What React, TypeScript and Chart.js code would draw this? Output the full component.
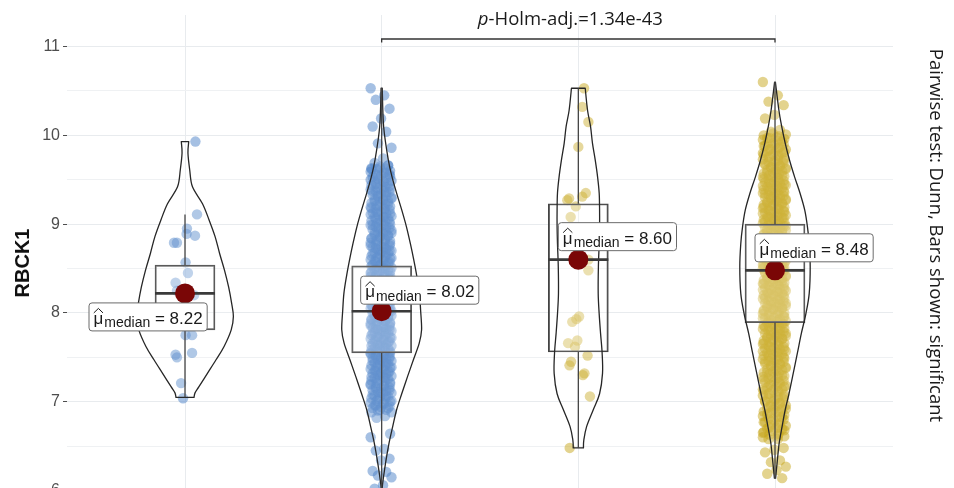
import React, { useEffect, useRef } from "react";
import { Chart, registerables } from "chart.js";

Chart.register(...registerables);

// ---------------- data ----------------
const groupPositions = [1, 2, 3, 4];
const medians = [8.22, 8.02, 8.6, 8.48];
const medianLabels = ["8.22", "8.02", "8.60", "8.48"];
const q1s = [7.81, 7.55, 7.56, 7.89];
const q3s = [8.54, 8.53, 9.23, 9.0];
const whiskerLo = [7.05, 5.98, 6.48, 6.14];
const whiskerHi = [9.11, 10.53, 10.53, 10.6];

const yGridValues = [6, 6.5, 7, 7.5, 8, 8.5, 9, 9.5, 10, 10.5, 11];
const yAxisTitle = "RBCK1";
const pValueText = "-Holm-adj.=1.34e-43";
const captionText = "Pairwise test: Dunn, Bars shown: significant";
const bracketGroups = [2, 4];

const g1Values = [9.93, 9.11, 8.95, 8.89, 8.87, 8.79, 8.79, 8.57, 8.45, 8.34, 8.25, 8.2, 8.07, 8.0, 7.75, 7.75, 7.55, 7.53, 7.5, 7.21, 7.04];
const g1Jitter = [0.053, 0.061, 0.01, 0.008, 0.051, -0.056, -0.041, 0.003, 0.015, -0.048, -0.041, 0.046, 0.0, 0.036, 0.003, 0.036, 0.036, -0.048, -0.041, -0.02, -0.01];

const g2Values = [
  10.53, 10.45, 10.4, 10.3, 10.19, 10.1, 10.04, 9.91, 9.86, 9.74, 9.69,
  9.66, 9.63, 9.62, 9.58, 9.55, 9.54, 9.5, 9.47, 9.45, 9.43, 9.39, 9.37, 9.36, 9.32, 9.3, 9.27, 9.26, 9.23, 9.21, 9.18,
  9.17, 9.14, 9.12, 9.11, 9.08, 9.06, 9.03, 9.02, 8.99, 8.97, 8.96, 8.93, 8.91, 8.9, 8.87, 8.86, 8.84, 8.81, 8.8, 8.78,
  8.76, 8.74, 8.73, 8.7, 8.69, 8.67, 8.65, 8.63, 8.62, 8.59, 8.58, 8.56, 8.54, 8.53, 8.5, 8.49, 8.47, 8.45, 8.43, 8.42,
  8.4, 8.38, 8.37, 8.34, 8.33, 8.31, 8.29, 8.28, 8.26, 8.24, 8.22, 8.21, 8.19, 8.17, 8.16, 8.13, 8.12, 8.1, 8.08, 8.07,
  8.05, 8.03, 8.02, 7.99, 7.98, 7.96, 7.94, 7.93, 7.91, 7.89, 7.88, 7.86, 7.84, 7.82, 7.81, 7.79, 7.77, 7.76, 7.73, 7.72,
  7.7, 7.68, 7.67, 7.64, 7.63, 7.61, 7.58, 7.57, 7.55, 7.53, 7.51, 7.49, 7.47, 7.46, 7.43, 7.41, 7.39, 7.37, 7.35, 7.33,
  7.31, 7.28, 7.27, 7.24, 7.22, 7.2, 7.17, 7.15, 7.13, 7.1, 7.08, 7.06, 7.03, 7.01, 6.98, 6.96, 6.93, 6.91, 6.88,
  6.84, 6.82, 6.64, 6.6, 6.47, 6.45, 6.36, 6.34, 6.22, 6.21, 6.17, 6.15, 6.06, 6.02,
  9.66, 9.65, 9.63, 9.63, 9.62, 9.6, 9.59, 9.58, 9.56, 9.56, 9.55, 9.53, 9.52, 9.51, 9.49, 9.48, 9.48, 9.46, 9.45, 9.44,
  9.42, 9.41, 9.4, 9.39, 9.37, 9.37, 9.36, 9.34, 9.33, 9.32, 9.31, 9.29, 9.28, 9.28, 9.26, 9.25, 9.24, 9.22, 9.21, 9.2,
  9.19, 9.17, 9.17, 9.16, 9.14, 9.13, 9.12, 9.11, 9.09, 9.08, 9.08, 9.06, 9.05, 9.04, 9.03, 9.01, 9.0, 8.99, 8.99, 8.97,
  8.96, 8.95, 8.94, 8.92, 8.91, 8.9, 8.89, 8.88, 8.87, 8.85, 8.84, 8.83, 8.82, 8.81, 8.79, 8.78, 8.77, 8.76, 8.75, 8.74,
  8.72, 8.71, 8.7, 8.69, 8.68, 8.67, 8.66, 8.64, 8.63, 8.62, 8.61, 8.6, 8.59, 8.58, 8.57, 8.55, 8.54, 8.53, 8.52, 8.51,
  8.5, 8.49, 8.48, 8.47, 8.46, 8.44, 8.43, 8.42, 8.41, 8.4, 8.39, 8.38, 8.37, 8.36, 8.35, 8.34, 8.32, 8.31, 8.3, 8.29,
  8.28, 8.27, 8.26, 8.25, 8.24, 8.23, 8.22, 8.21, 8.2, 8.19, 8.18, 8.17, 8.16, 8.14, 8.13, 8.12, 8.11, 8.1, 8.09, 8.08,
  8.07, 8.06, 8.05, 8.04, 8.03, 8.02, 8.01, 8.0, 7.99, 7.98, 7.97, 7.96, 7.95, 7.94, 7.93, 7.92, 7.91, 7.9, 7.89, 7.88,
  7.87, 7.86, 7.85, 7.84, 7.83, 7.82, 7.81, 7.8, 7.79, 7.78, 7.77, 7.76, 7.75, 7.74, 7.73, 7.72, 7.71, 7.7, 7.69, 7.68,
  7.67, 7.66, 7.65, 7.64, 7.63, 7.62, 7.61, 7.6, 7.59, 7.58, 7.57, 7.56, 7.55, 7.54, 7.53, 7.52, 7.51, 7.5, 7.49, 7.48,
  7.47, 7.46, 7.45, 7.44, 7.43, 7.42, 7.41, 7.4, 7.39, 7.38, 7.37, 7.36, 7.35, 7.34, 7.33, 7.32, 7.31, 7.3, 7.29, 7.28,
  7.27, 7.26, 7.25, 7.24, 7.23, 7.21, 7.2, 7.19, 7.18, 7.17, 7.16, 7.15, 7.13, 7.12, 7.11, 7.1, 7.09, 7.07, 7.06, 7.05,
  7.04, 7.03, 7.01, 7.0, 6.99, 6.98, 6.96, 6.95, 6.94, 6.93, 6.91, 6.9, 6.88,
];

const g3Values = [10.53, 10.32, 10.15, 9.87, 9.35, 9.31, 9.29, 9.27, 9.2, 9.08, 8.6, 8.48, 7.96, 7.93, 7.9, 7.69, 7.66, 7.62, 7.52, 7.45, 7.41, 7.32, 7.3, 7.06, 6.48];
const g3Jitter = [0.029, 0.02, 0.051, 0.0, 0.038, 0.02, -0.047, -0.056, -0.013, -0.039, 0.051, 0.051, 0.004, -0.01, -0.031, -0.005, -0.052, -0.017, 0.047, -0.037, -0.045, 0.031, 0.023, 0.059, -0.044];

const g4Values = [
  10.6, 10.45, 10.38, 10.34, 10.23, 10.19, 10.06, 10.04,
  10.01, 9.98, 9.97, 9.93, 9.91, 9.88, 9.86, 9.84, 9.81, 9.8, 9.77, 9.75, 9.72, 9.71, 9.68, 9.66, 9.64, 9.62, 9.59, 9.58,
  9.55, 9.53, 9.51, 9.49, 9.47, 9.45, 9.43, 9.41, 9.39, 9.37, 9.35, 9.34, 9.32, 9.3, 9.28, 9.26, 9.24, 9.23, 9.21, 9.19,
  9.17, 9.15, 9.14, 9.12, 9.1, 9.08, 9.07, 9.05, 9.03, 9.01, 9.0, 8.98, 8.96, 8.94, 8.93, 8.91, 8.89, 8.88, 8.86, 8.84,
  8.83, 8.81, 8.79, 8.78, 8.76, 8.74, 8.73, 8.71, 8.69, 8.68, 8.66, 8.64, 8.63, 8.61, 8.59, 8.58, 8.56, 8.54, 8.53, 8.51,
  8.49, 8.48, 8.46, 8.44, 8.43, 8.41, 8.39, 8.38, 8.36, 8.34, 8.33, 8.31, 8.29, 8.27, 8.26, 8.24, 8.22, 8.2, 8.19, 8.17,
  8.15, 8.13, 8.11, 8.1, 8.08, 8.06, 8.04, 8.02, 8.0, 7.98, 7.96, 7.94, 7.92, 7.9, 7.88, 7.86, 7.84, 7.82, 7.8, 7.77,
  7.75, 7.73, 7.71, 7.69, 7.66, 7.64, 7.62, 7.59, 7.57, 7.55, 7.52, 7.5, 7.47, 7.45, 7.43, 7.4, 7.38, 7.35, 7.33, 7.3,
  7.28, 7.25, 7.22, 7.2, 7.17, 7.14, 7.12, 7.09, 7.06, 7.03, 7.01, 6.98, 6.95, 6.92, 6.89, 6.86, 6.83, 6.8, 6.77, 6.74,
  6.71, 6.68, 6.65, 6.62, 6.58,
  6.48, 6.46, 6.43, 6.34, 6.32, 6.27, 6.23, 6.19, 6.14,
  10.02, 10.0, 9.99, 9.97, 9.96, 9.95, 9.94, 9.92, 9.9, 9.89, 9.88, 9.87, 9.85, 9.84, 9.83, 9.82, 9.8, 9.79, 9.78, 9.77,
  9.76, 9.74, 9.73, 9.72, 9.7, 9.69, 9.68, 9.67, 9.65, 9.64, 9.63, 9.62, 9.61, 9.6, 9.58, 9.57, 9.56, 9.55, 9.54, 9.53,
  9.52, 9.5, 9.49, 9.48, 9.47, 9.46, 9.45, 9.44, 9.43, 9.42, 9.41, 9.4, 9.39, 9.38, 9.37, 9.36, 9.35, 9.34, 9.33, 9.32,
  9.31, 9.3, 9.29, 9.28, 9.27, 9.26, 9.25, 9.24, 9.23, 9.22, 9.21, 9.2, 9.19, 9.18, 9.17, 9.16, 9.15, 9.14, 9.13, 9.12,
  9.11, 9.1, 9.09, 9.08, 9.07, 9.06, 9.05, 9.04, 9.03, 9.02, 9.01, 9.0, 8.99, 8.98, 8.97, 8.96, 8.95, 8.94, 8.93, 8.92,
  8.91, 8.9, 8.89, 8.88, 8.87, 8.86, 8.85, 8.84, 8.83, 8.82, 8.81, 8.8, 8.79, 8.78, 8.77, 8.76, 8.75, 8.74, 8.73, 8.72,
  8.71, 8.7, 8.69, 8.68, 8.67, 8.66, 8.65, 8.64, 8.63, 8.62, 8.61, 8.6, 8.59, 8.58, 8.57, 8.56, 8.55, 8.54, 8.53, 8.52,
  8.51, 8.5, 8.49, 8.48, 8.47, 8.46, 8.45, 8.44, 8.43, 8.42, 8.41, 8.4, 8.39, 8.38, 8.37, 8.36, 8.35, 8.34, 8.33, 8.32,
  8.31, 8.3, 8.29, 8.28, 8.27, 8.26, 8.25, 8.24, 8.23, 8.22, 8.21, 8.2, 8.19, 8.18, 8.17, 8.16, 8.15, 8.14, 8.13, 8.12,
  8.11, 8.1, 8.09, 8.08, 8.07, 8.06, 8.05, 8.04, 8.03, 8.02, 8.01, 8.0, 7.99, 7.98, 7.97, 7.96, 7.95, 7.94, 7.93, 7.92,
  7.91, 7.9, 7.89, 7.88, 7.87, 7.86, 7.85, 7.84, 7.83, 7.82, 7.81, 7.8, 7.79, 7.78, 7.77, 7.76, 7.75, 7.74, 7.73, 7.72,
  7.71, 7.7, 7.69, 7.68, 7.67, 7.66, 7.65, 7.64, 7.63, 7.62, 7.61, 7.6, 7.59, 7.58, 7.57, 7.56, 7.55, 7.54, 7.53, 7.52,
  7.51, 7.5, 7.49, 7.48, 7.47, 7.46, 7.45, 7.44, 7.43, 7.42, 7.41, 7.39, 7.38, 7.37, 7.36, 7.34, 7.33, 7.32, 7.31, 7.29,
  7.28, 7.27, 7.26, 7.24, 7.23, 7.22, 7.21, 7.19, 7.18, 7.17, 7.16, 7.14, 7.13, 7.12, 7.11, 7.09, 7.08, 7.07, 7.05, 7.04,
  7.03, 7.01, 7.0, 6.99, 6.97, 6.96, 6.95, 6.93, 6.92, 6.91, 6.89, 6.88, 6.87, 6.85, 6.84, 6.83, 6.81, 6.8, 6.78, 6.77,
  6.76, 6.74, 6.73, 6.71, 6.7, 6.69, 6.67, 6.66, 6.64, 6.63, 6.61, 6.6, 6.58,
];

// violin outlines: level (y value) and half width (in category units)
const v1Levels = [9.93, 9.8, 9.61, 9.42, 9.23, 9.05, 8.86, 8.67, 8.48, 8.29, 8.11, 7.96, 7.81, 7.62, 7.47, 7.32, 7.17, 7.1, 7.05];
const v1Half = [0.019, 0.015, 0.024, 0.038, 0.089, 0.122, 0.153, 0.176, 0.201, 0.222, 0.237, 0.246, 0.235, 0.198, 0.157, 0.114, 0.071, 0.051, 0.046];
const v2Levels = [10.53, 10.1, 9.72, 9.53, 9.35, 9.16, 8.97, 8.78, 8.6, 8.41, 8.22, 8.03, 7.81, 7.66, 7.47, 7.28, 7.09, 6.91, 6.72, 6.53, 6.34, 6.08, 5.96];
const v2Half = [0.003, 0.01, 0.034, 0.053, 0.076, 0.102, 0.126, 0.146, 0.163, 0.179, 0.192, 0.198, 0.203, 0.191, 0.161, 0.131, 0.102, 0.076, 0.056, 0.037, 0.022, 0.005, 0.001];
const v3Levels = [10.53, 10.28, 10.1, 9.91, 9.72, 9.53, 9.35, 9.16, 8.97, 8.78, 8.52, 8.22, 7.99, 7.77, 7.55, 7.32, 7.09, 6.91, 6.72, 6.57, 6.48];
const v3Half = [0.035, 0.047, 0.062, 0.072, 0.086, 0.098, 0.106, 0.108, 0.108, 0.106, 0.102, 0.101, 0.106, 0.113, 0.121, 0.123, 0.108, 0.076, 0.042, 0.028, 0.026];
const v4Levels = [10.6, 10.28, 10.1, 9.91, 9.72, 9.53, 9.35, 9.16, 8.97, 8.78, 8.52, 8.22, 7.99, 7.77, 7.55, 7.28, 7.09, 6.91, 6.72, 6.53, 6.34, 6.14];
const v4Half = [0.002, 0.02, 0.034, 0.052, 0.074, 0.1, 0.127, 0.151, 0.165, 0.174, 0.179, 0.174, 0.157, 0.134, 0.114, 0.089, 0.071, 0.052, 0.036, 0.021, 0.012, 0.003];

// ---------------- layout / style constants ----------------
const X_MIN = 0.4;
const X_MAX = 4.6;
const Y_MIN = 5.77;
const Y_MAX = 11.355;
const JITTER_PATTERN = [-0.056, 0.013, -0.03, 0.04, -0.003, -0.046, 0.023, -0.019, 0.05, 0.007, -0.036, 0.033, -0.009, -0.052, 0.017, -0.026, 0.043];
const BOX_HALF = 0.1525;
const BLUE = "rgba(75,130,200,0.5)";
const GOLD = "rgba(200,168,30,0.5)";
const FONT = "'Liberation Sans', Arial, sans-serif";
const FONT2 = "'Open Sans', 'Noto Sans', sans-serif";
const LABEL_OFFSETS = [
  { dx: -96, dy: 9.5 },
  { dx: -21, dy: -35 },
  { dx: -20, dy: -37 },
  { dx: -20, dy: -36.5 },
];

const violins = [
  { levels: v1Levels, half: v1Half },
  { levels: v2Levels, half: v2Half },
  { levels: v3Levels, half: v3Half },
  { levels: v4Levels, half: v4Half },
];

function explicitPoints(values: number[], pos: number, jitter: number[]) {
  return values.map((v, i) => ({ x: pos + jitter[i], y: v }));
}
function patternPoints(values: number[], pos: number, scale: number) {
  return values.map((v, i) => ({ x: pos + JITTER_PATTERN[i % JITTER_PATTERN.length] * scale, y: v }));
}

function curveThrough(ctx: CanvasRenderingContext2D, pts: { x: number; y: number }[]) {
  for (let i = 0; i < pts.length - 1; i++) {
    const p0 = pts[i - 1] || pts[i];
    const p1 = pts[i];
    const p2 = pts[i + 1];
    const p3 = pts[i + 2] || p2;
    ctx.bezierCurveTo(
      p1.x + (p2.x - p0.x) / 6,
      p1.y + (p2.y - p0.y) / 6,
      p2.x - (p3.x - p1.x) / 6,
      p2.y - (p3.y - p1.y) / 6,
      p2.x,
      p2.y
    );
  }
}

const violinPlugin = {
  id: "violins",
  afterDatasetDraw(chart: any, args: any) {
    const ds = chart.data.datasets[args.index];
    if (!ds || ds.label !== "boxes") return;
    const ctx: CanvasRenderingContext2D = chart.ctx;
    const xs = chart.scales.x;
    const ys = chart.scales.y;
    const ca = chart.chartArea;
    ctx.save();
    ctx.beginPath();
    ctx.rect(ca.left, ca.top, ca.right - ca.left, ca.bottom - ca.top + 20);
    ctx.clip();
    violins.forEach((v, gi) => {
      const c = groupPositions[gi];
      const right = v.levels.map((lv, i) => ({ x: xs.getPixelForValue(c + v.half[i]), y: ys.getPixelForValue(lv) }));
      const left = v.levels
        .map((lv, i) => ({ x: xs.getPixelForValue(c - v.half[i]), y: ys.getPixelForValue(lv) }))
        .reverse();
      ctx.beginPath();
      ctx.moveTo(left[left.length - 1].x, left[left.length - 1].y);
      ctx.lineTo(right[0].x, right[0].y);
      curveThrough(ctx, right);
      ctx.lineTo(left[0].x, left[0].y);
      curveThrough(ctx, left);
      ctx.closePath();
      ctx.fillStyle = "rgba(255,255,255,0.12)";
      ctx.fill();
      ctx.strokeStyle = "#262626";
      ctx.lineWidth = 1.3;
      ctx.lineJoin = "round";
      ctx.stroke();
    });
    ctx.restore();
  },
};

const annotationPlugin = {
  id: "annotations",
  afterDatasetsDraw(chart: any) {
    const ctx: CanvasRenderingContext2D = chart.ctx;
    const xs = chart.scales.x;
    const ys = chart.scales.y;
    ctx.save();
    // median labels
    medians.forEach((m, gi) => {
      const px = xs.getPixelForValue(groupPositions[gi]);
      const py = ys.getPixelForValue(m);
      const left = px + LABEL_OFFSETS[gi].dx;
      const top = py + LABEL_OFFSETS[gi].dy;
      const big = `17px ${FONT}`;
      const small = `14px ${FONT}`;
      ctx.font = big;
      const wMu = ctx.measureText("\u03bc").width;
      const wVal = ctx.measureText(" = " + medianLabels[gi]).width;
      ctx.font = small;
      const wSub = ctx.measureText("median").width;
      const pad = 4.5;
      const w = pad * 2 + wMu + 1 + wSub + wVal;
      const h = 28;
      ctx.beginPath();
      if ((ctx as any).roundRect) (ctx as any).roundRect(left, top, w, h, 3);
      else ctx.rect(left, top, w, h);
      ctx.fillStyle = "#ffffff";
      ctx.fill();
      ctx.strokeStyle = "#6b6b6b";
      ctx.lineWidth = 1;
      ctx.stroke();
      ctx.fillStyle = "#1a1a1a";
      ctx.textBaseline = "alphabetic";
      ctx.textAlign = "left";
      let x = left + pad;
      ctx.font = big;
      ctx.fillText("\u03bc", x, top + 21);
      // estimator hat
      ctx.beginPath();
      ctx.moveTo(x + 0.3, top + 10);
      ctx.lineTo(x + wMu / 2, top + 5.5);
      ctx.lineTo(x + wMu - 0.3, top + 10);
      ctx.strokeStyle = "#1a1a1a";
      ctx.lineWidth = 1;
      ctx.stroke();
      x += wMu + 1;
      ctx.font = small;
      ctx.fillText("median", x, top + 24.5);
      x += wSub;
      ctx.font = big;
      ctx.fillText(" = " + medianLabels[gi], x, top + 21);
    });

    // significance bracket
    const bx1 = xs.getPixelForValue(bracketGroups[0]);
    const bx2 = xs.getPixelForValue(bracketGroups[1]);
    const by = ys.getPixelForValue(11.085);
    const byTick = ys.getPixelForValue(11.045);
    ctx.beginPath();
    ctx.moveTo(bx1, byTick);
    ctx.lineTo(bx1, by);
    ctx.lineTo(bx2, by);
    ctx.lineTo(bx2, byTick);
    ctx.strokeStyle = "#333333";
    ctx.lineWidth = 1.3;
    ctx.stroke();
    ctx.fillStyle = "#1a1a1a";
    ctx.font = `italic 18.5px ${FONT2}`;
    const wp = ctx.measureText("p").width;
    ctx.font = `18.5px ${FONT2}`;
    const wr = ctx.measureText(pValueText).width;
    const center = (bx1 + bx2) / 2 - 8;
    const startX = center - (wp + wr) / 2;
    ctx.textAlign = "left";
    ctx.font = `italic 18.5px ${FONT2}`;
    ctx.fillText("p", startX, by - 14);
    ctx.font = `18.5px ${FONT2}`;
    ctx.fillText(pValueText, startX + wp, by - 14);

    // right caption
    ctx.save();
    ctx.translate(935, 235.5);
    ctx.rotate(Math.PI / 2);
    ctx.font = `18.5px ${FONT2}`;
    ctx.textAlign = "center";
    ctx.textBaseline = "middle";
    ctx.fillStyle = "#1a1a1a";
    ctx.fillText(captionText, 0, 0);
    ctx.restore();

    ctx.restore();
  },
};

export default function App() {
  const canvasRef = useRef<HTMLCanvasElement | null>(null);

  useEffect(() => {
    if (!canvasRef.current) return;
    const whiskerData: any[] = [];
    const medianData: any[] = [];
    groupPositions.forEach((g, i) => {
      whiskerData.push({ x: g, y: whiskerLo[i] }, { x: g, y: q1s[i] }, { x: g, y: null });
      whiskerData.push({ x: g, y: q3s[i] }, { x: g, y: whiskerHi[i] }, { x: g, y: null });
      medianData.push({ x: g - BOX_HALF, y: medians[i] }, { x: g + BOX_HALF, y: medians[i] }, { x: g, y: null });
    });

    const chart = new Chart(canvasRef.current, {
      type: "scatter",
      data: {
        datasets: [
          { label: "g1", data: explicitPoints(g1Values, 1, g1Jitter), backgroundColor: BLUE, borderWidth: 0, pointRadius: 5.2, order: 10 } as any,
          { label: "g2", data: patternPoints(g2Values, 2, 1), backgroundColor: BLUE, borderWidth: 0, pointRadius: 5.2, order: 10 } as any,
          { label: "g3", data: explicitPoints(g3Values, 3, g3Jitter), backgroundColor: GOLD, borderWidth: 0, pointRadius: 5.2, order: 10 } as any,
          { label: "g4", data: patternPoints(g4Values, 4, 1.1), backgroundColor: GOLD, borderWidth: 0, pointRadius: 5.2, order: 10 } as any,
          {
            type: "bar",
            label: "boxes",
            data: groupPositions.map((g, i) => ({ x: g, y: [q1s[i], q3s[i]] })),
            backgroundColor: "rgba(255,255,255,0.22)",
            borderColor: "#444444",
            borderWidth: 1.3,
            borderSkipped: false,
            barThickness: 60,
            order: 6,
          } as any,
          {
            type: "line",
            label: "whiskers",
            data: whiskerData,
            borderColor: "#454545",
            borderWidth: 1.3,
            pointRadius: 0,
            spanGaps: false,
            order: 5,
          } as any,
          {
            type: "line",
            label: "medians",
            data: medianData,
            borderColor: "#3a3a3a",
            borderWidth: 2.6,
            pointRadius: 0,
            spanGaps: false,
            order: 4,
          } as any,
          {
            label: "medianDots",
            data: groupPositions.map((g, i) => ({ x: g, y: medians[i] })),
            backgroundColor: "#7a0606",
            borderWidth: 0,
            pointRadius: 10,
            order: 1,
          } as any,
        ],
      },
      options: {
        animation: false,
        responsive: true,
        maintainAspectRatio: false,
        layout: { padding: { left: 0, right: 61, top: 15, bottom: 13 } },
        plugins: { legend: { display: false }, tooltip: { enabled: false } },
        scales: {
          x: {
            type: "linear",
            min: X_MIN,
            max: X_MAX,
            offset: false,
            afterBuildTicks: (scale: any) => {
              scale.ticks = groupPositions.map((v) => ({ value: v }));
            },
            afterFit: (scale: any) => {
              scale.height = 0;
            },
            ticks: { display: false },
            border: { display: false },
            grid: { color: "#e8ebee", lineWidth: 1, drawTicks: false, offset: false },
          },
          y: {
            type: "linear",
            min: Y_MIN,
            max: Y_MAX,
            afterBuildTicks: (scale: any) => {
              scale.ticks = yGridValues.map((v) => ({ value: v }));
            },
            afterFit: (scale: any) => {
              scale.width = 67;
            },
            ticks: {
              padding: 3,
              color: "#4d4d4d",
              font: { family: FONT, size: 16 },
              callback: (v: any) => (Number.isInteger(v) ? String(v) : ""),
            },
            border: { display: false },
            grid: {
              tickLength: 4,
              color: (c: any) => (c.tick && Number.isInteger(c.tick.value) ? "#e8ebee" : "#eff1f3"),
              tickColor: (c: any) => (c.tick && Number.isInteger(c.tick.value) ? "#4d4d4d" : "rgba(0,0,0,0)"),
            },
            title: {
              display: true,
              text: yAxisTitle,
              color: "#111111",
              font: { family: FONT, size: 20, weight: "bold" },
              padding: { top: 11, bottom: 0 },
            },
          },
        },
      },
      plugins: [violinPlugin, annotationPlugin],
    } as any);
    return () => chart.destroy();
  }, []);

  return (
    <div style={{ position: "absolute", left: 0, top: 0, width: 954, height: 488, overflow: "hidden", background: "#fff" }}>
      <div style={{ position: "relative", width: 954, height: 524 }}>
        <canvas ref={canvasRef} />
      </div>
    </div>
  );
}
